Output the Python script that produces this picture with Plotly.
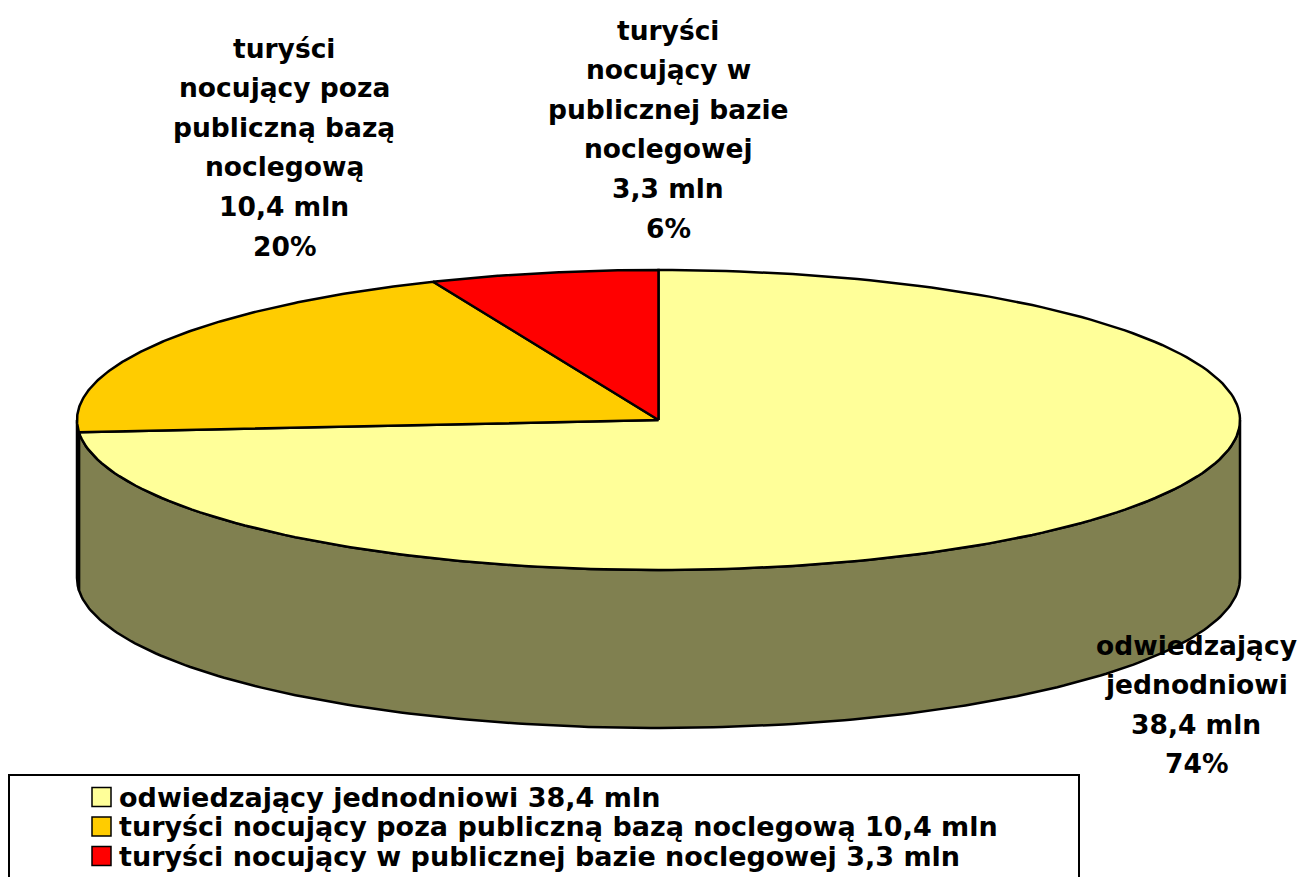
import numpy as np
import plotly.graph_objects as go

# data
categories = ["odwiedzający jednodniowi",
              "turyści nocujący poza publiczną bazą noclegową",
              "turyści nocujący w publicznej bazie noclegowej"]
values = [38.4, 10.4, 3.3]  # mln
label_lines = [["odwiedzający", "jednodniowi"],
               ["turyści", "nocujący poza", "publiczną bazą", "noclegową"],
               ["turyści", "nocujący w", "publicznej bazie", "noclegowej"]]

top_colors = ["#FFFF99", "#FFCC00", "#FF0000"]
side_colors = ["#808050", "#806600", "#800000"]

# pie geometry (pixels)
W, H = 1303, 877
CX, CY = 658.5, 420
RX, RY = 581.5, 150
DEPTH = 158
label_pos = [(1196, 645), (284, 48), (668, 30)]
LINE_H = 39.6
FONT = "DejaVu Sans"
FS = 26.5
LEG_FS = 27


def fmt(v):
    return f"{v:.1f}".replace(".", ",") + " mln"


def arc(t0, t1, dy=0, n=200):
    t = np.radians(np.linspace(t0, t1, n))
    return CX + RX * np.sin(t), CY - RY * np.cos(t) + dy


total = sum(values)
cum = np.concatenate([[0], np.cumsum(values)]) / total * 360
pcts = [round(v / total * 100) for v in values]

fig = go.Figure()

# side walls (front half only: 90..270 deg clockwise from top)
for i in range(len(values)):
    a, b = max(cum[i], 90), min(cum[i + 1], 270)
    if a >= b:
        continue
    xt, yt = arc(a, b)
    xb, yb = arc(b, a, DEPTH)
    fig.add_trace(go.Scatter(
        x=np.concatenate([xt, xb, xt[:1]]), y=np.concatenate([yt, yb, yt[:1]]),
        mode="lines", fill="toself", fillcolor=side_colors[i],
        line=dict(color="black", width=2.5), hoverinfo="skip"))

# top faces
for i in range(len(values)):
    xa, ya = arc(cum[i], cum[i + 1])
    fig.add_trace(go.Scatter(
        x=np.concatenate([[CX], xa, [CX]]), y=np.concatenate([[CY], ya, [CY]]),
        mode="lines", fill="toself", fillcolor=top_colors[i],
        line=dict(color="black", width=2.5), hoverinfo="skip"))

# data labels
for i in range(len(values)):
    lines = label_lines[i] + [fmt(values[i]), f"{pcts[i]}%"]
    x0, y0 = label_pos[i]
    for k, s in enumerate(lines):
        fig.add_annotation(x=x0, y=y0 + k * LINE_H, text=f"<b>{s}</b>",
                           showarrow=False, xanchor="center", yanchor="middle",
                           font=dict(family=FONT, size=FS, color="black"))

# legend
fig.add_shape(type="rect", x0=9, y0=775, x1=1079, y1=905,
              line=dict(color="black", width=2), fillcolor="white", layer="below")
for i in range(len(values)):
    yc = 797 + i * 29.5
    fig.add_shape(type="rect", x0=92, x1=111, y0=yc - 9.5, y1=yc + 9.5,
                  fillcolor=top_colors[i], line=dict(color="black", width=1.5))
    fig.add_annotation(x=117, y=yc, text=f"<b>{categories[i]} {fmt(values[i])}</b>",
                       showarrow=False, xanchor="left", yanchor="middle",
                       font=dict(family=FONT, size=LEG_FS, color="black"))

fig.update_layout(
    width=W, height=H,
    margin=dict(l=0, r=0, t=0, b=0),
    paper_bgcolor="white", plot_bgcolor="white",
    showlegend=False,
    xaxis=dict(range=[0, W], visible=False, fixedrange=True),
    yaxis=dict(range=[H, 0], visible=False, fixedrange=True),
)

fig.write_html("out.html", config={"displayModeBar": False},
               post_script="document.body.style.margin='0';")
